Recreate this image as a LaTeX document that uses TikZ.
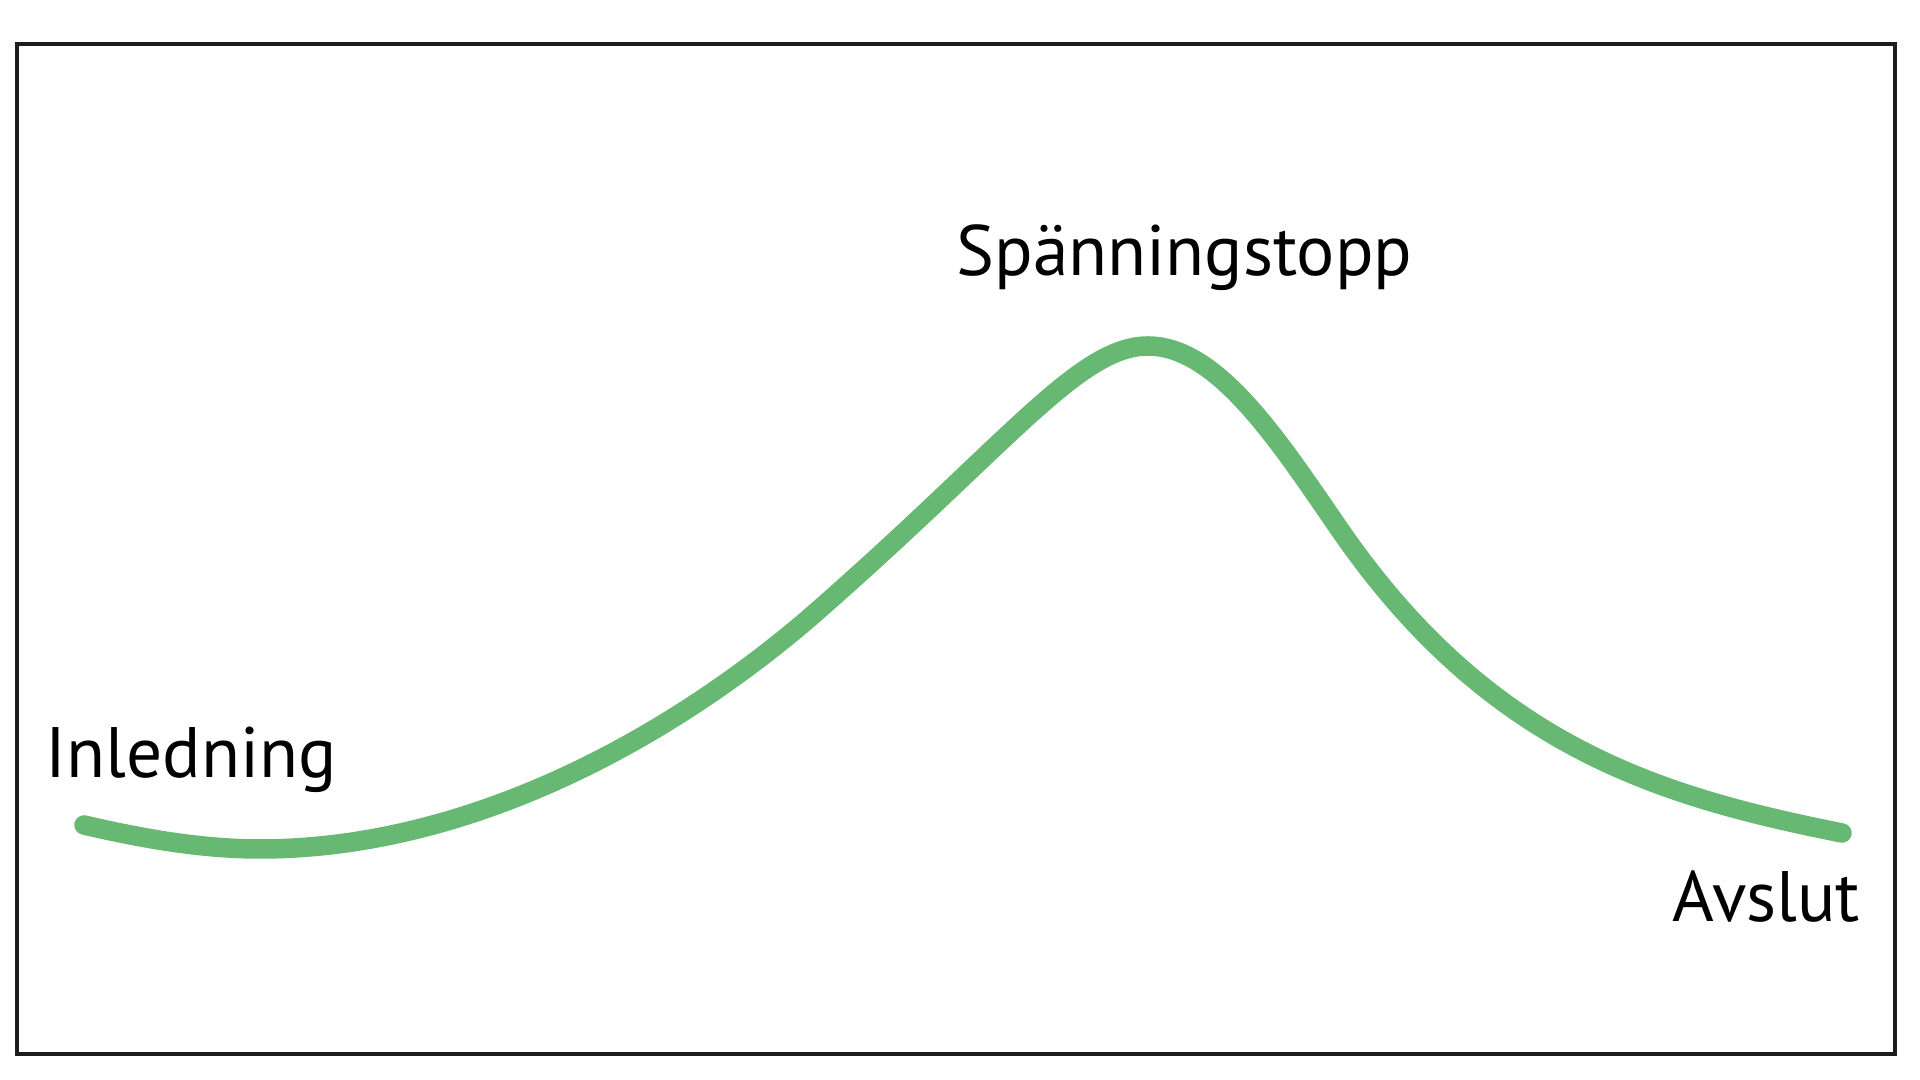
\documentclass[tikz,border=0pt]{standalone}
\usepackage{fontspec}
\setmainfont{PT Sans}
\definecolor{curvegreen}{RGB}{102,184,115}
\definecolor{framedark}{RGB}{29,29,27}
\begin{document}
\begin{tikzpicture}[x=0.01cm,y=-0.01cm,
  frame/.style={draw=framedark,line width=0.04cm},
  arc/.style={draw=curvegreen,line width=0.195cm,line cap=round,line join=round},
  lbl/.style={inner sep=0pt,anchor=base west,font=\fontsize{20.3pt}{24pt}\selectfont,text=black}]
\useasboundingbox (0,0) rectangle (1920,1080);
\draw[frame] (17,44) rectangle (1895,1054);
\coordinate (c0) at (84,825);
\coordinate (c1) at (260,849);
\coordinate (c2) at (807,620);
\coordinate (c3) at (1148,346);
\coordinate (c4) at (1340,530);
\coordinate (c5) at (1842,833);
\draw[arc] (c0) .. controls (140,838) and (200,849) .. (c1)
  .. controls (460,849) and (657,747.5) .. (c2)
  .. controls (1007,446) and (1078,346) .. (c3)
  .. controls (1218,346) and (1280,443) .. (c4)
  .. controls (1490,747.5) and (1662,797) .. (c5);
\node[lbl] (intro) at (45,778) {Inledning};
\node[lbl] (peak) at (956,276) {Spänningstopp};
\node[lbl] (end) at (1672,922) {Avslut};
\end{tikzpicture}
\end{document}
